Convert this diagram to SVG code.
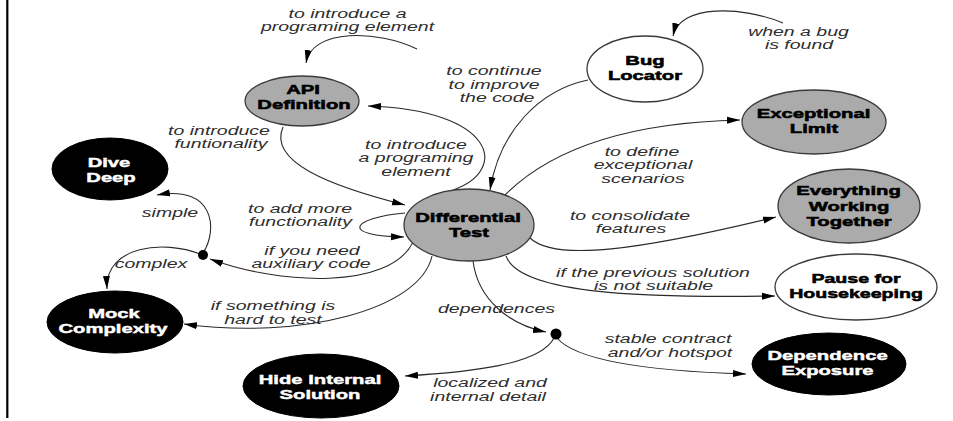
<svg xmlns="http://www.w3.org/2000/svg" width="953" height="421" viewBox="0 0 953 421">
  <style>
    .bg { fill: #ffffff; }
    .grey { fill: #ababab; stroke: #3a3a3a; stroke-width: 1.3; }
    .white { fill: #ffffff; stroke: #3a3a3a; stroke-width: 1.3; }
    .black { fill: #000000; stroke: #000000; stroke-width: 1; }
    .n { font-family: "Liberation Sans", Arial, sans-serif; font-size: 13.5px; font-weight: bold; text-anchor: middle; fill: #000; stroke: #000; stroke-width: 0.55; }
    .nw { font-family: "Liberation Sans", Arial, sans-serif; font-size: 13.5px; font-weight: bold; text-anchor: middle; fill: #fff; stroke: #fff; stroke-width: 0.45; }
    .l { font-family: "Liberation Sans", Arial, sans-serif; font-size: 12.5px; font-style: italic; text-anchor: middle; fill: #2e2e2e; }
    .edge { fill: none; stroke: #2a2a2a; stroke-width: 1.1; marker-end: url(#arrow); }
    .dot { fill: #000; }
  </style>
  <defs>
    <marker id="arrow" markerUnits="userSpaceOnUse" markerWidth="14" markerHeight="8" refX="13" refY="4" orient="auto">
      <path d="M0,0.5 L13,4 L0,7.5 z" fill="#000"/>
    </marker>
  </defs>

  <rect class="bg" x="0" y="0" width="953" height="421"/>
  <!-- left border rule -->
  <line x1="7.3" y1="0" x2="7.3" y2="418" stroke="#000" stroke-width="2.2"/>

  <!-- connectors -->
  <g id="connectors">
    <path class="edge" d="M417,49 C378,30 312,28 306,63"/>
    <path class="edge" d="M783,23 C742,6 680,4 673,36"/>
    <path class="edge" d="M283,127 C268,162 330,186 405,205"/>
    <path class="edge" d="M453,190 C510,170 495,110 368,106"/>
    <path class="edge" d="M588,80 C540,90 500,130 490,190"/>
    <path class="edge" d="M505,195 C560,140 650,122 740,120"/>
    <path class="edge" d="M530,238 C555,262 640,250 776,217"/>
    <path class="edge" d="M506,256 C520,295 650,298 775,296"/>
    <path class="edge" d="M473,261 C478,300 510,325 546,332"/>
    <path class="edge" d="M557,338 C580,365 680,372 746,374"/>
    <path class="edge" d="M554,338 C540,365 470,372 405,376"/>
    <path class="edge" d="M432,256 C420,310 300,340 184,324"/>
    <path class="edge" d="M413,242 C390,290 280,285 210,259"/>
    <path class="edge" d="M405,213 C350,218 340,236 404,237"/>
    <path class="edge" d="M203,253 C218,230 215,185 157,195"/>
    <path class="edge" d="M200,254 C165,240 105,245 107,289"/>
    <circle class="dot" cx="203" cy="255" r="5"/>
    <circle class="dot" cx="556" cy="334" r="5.5"/>
  </g>

  <!-- connector labels -->
  <g id="labels">
    <text class="l" transform="translate(347.5,18) scale(1.56,1)">to introduce a</text>
    <text class="l" transform="translate(347.5,31) scale(1.56,1)">programing element</text>
    <text class="l" transform="translate(798.5,36) scale(1.56,1)">when a bug</text>
    <text class="l" transform="translate(799,49) scale(1.56,1)">is found</text>
    <text class="l" transform="translate(494,75) scale(1.56,1)">to continue</text>
    <text class="l" transform="translate(494,89) scale(1.56,1)">to improve</text>
    <text class="l" transform="translate(497,102) scale(1.56,1)">the code</text>
    <text class="l" transform="translate(219,135) scale(1.56,1)">to introduce</text>
    <text class="l" transform="translate(221,148) scale(1.56,1)">funtionality</text>
    <text class="l" transform="translate(416,149) scale(1.56,1)">to introduce</text>
    <text class="l" transform="translate(416,162) scale(1.56,1)">a programing</text>
    <text class="l" transform="translate(416,176) scale(1.56,1)">element</text>
    <text class="l" transform="translate(642,156) scale(1.56,1)">to define</text>
    <text class="l" transform="translate(643,169) scale(1.56,1)">exceptional</text>
    <text class="l" transform="translate(643,183) scale(1.56,1)">scenarios</text>
    <text class="l" transform="translate(170,217) scale(1.56,1)">simple</text>
    <text class="l" transform="translate(300,213) scale(1.56,1)">to add more</text>
    <text class="l" transform="translate(300.5,226) scale(1.56,1)">functionality</text>
    <text class="l" transform="translate(630,220) scale(1.56,1)">to consolidate</text>
    <text class="l" transform="translate(631,233) scale(1.56,1)">features</text>
    <text class="l" transform="translate(312,255) scale(1.56,1)">if you need</text>
    <text class="l" transform="translate(311,268) scale(1.56,1)">auxiliary code</text>
    <text class="l" transform="translate(151,268) scale(1.56,1)">complex</text>
    <text class="l" transform="translate(653,277) scale(1.56,1)">if the previous solution</text>
    <text class="l" transform="translate(653.5,290) scale(1.56,1)">is not suitable</text>
    <text class="l" transform="translate(273,310) scale(1.56,1)">if something is</text>
    <text class="l" transform="translate(273,324) scale(1.56,1)">hard to test</text>
    <text class="l" transform="translate(496.5,313) scale(1.56,1)">dependences</text>
    <text class="l" transform="translate(668,343) scale(1.56,1)">stable contract</text>
    <text class="l" transform="translate(670,357) scale(1.56,1)">and/or hotspot</text>
    <text class="l" transform="translate(490,387) scale(1.56,1)">localized and</text>
    <text class="l" transform="translate(488,401) scale(1.56,1)">internal detail</text>
  </g>

  <!-- nodes -->
  <g id="api-definition">
    <ellipse class="grey" cx="302" cy="101" rx="57" ry="25"/>
    <text class="n" transform="translate(303,94) scale(1.5,1)">API</text>
    <text class="n" transform="translate(304,108.5) scale(1.5,1)">Definition</text>
  </g>
  <g id="bug-locator">
    <ellipse class="white" cx="645" cy="69" rx="58" ry="33"/>
    <text class="n" transform="translate(645,65) scale(1.5,1)">Bug</text>
    <text class="n" transform="translate(645,80) scale(1.5,1)">Locator</text>
  </g>
  <g id="dive-deep">
    <ellipse class="black" cx="110" cy="169" rx="58" ry="31"/>
    <text class="nw" transform="translate(109,167) scale(1.5,1)">Dive</text>
    <text class="nw" transform="translate(111,182) scale(1.5,1)">Deep</text>
  </g>
  <g id="exceptional-limit">
    <ellipse class="grey" cx="814" cy="122" rx="72" ry="32"/>
    <text class="n" transform="translate(813.5,118) scale(1.5,1)">Exceptional</text>
    <text class="n" transform="translate(814,133) scale(1.5,1)">Limit</text>
  </g>
  <g id="differential-test">
    <ellipse class="grey" cx="469" cy="225" rx="65" ry="36"/>
    <text class="n" transform="translate(468,222) scale(1.5,1)">Differential</text>
    <text class="n" transform="translate(469,237) scale(1.5,1)">Test</text>
  </g>
  <g id="everything-working-together">
    <ellipse class="grey" cx="849" cy="206" rx="71" ry="37"/>
    <text class="n" transform="translate(848.5,195) scale(1.5,1)">Everything</text>
    <text class="n" transform="translate(849,211) scale(1.5,1)">Working</text>
    <text class="n" transform="translate(849,226) scale(1.5,1)">Together</text>
  </g>
  <g id="pause-for-housekeeping">
    <ellipse class="white" cx="856" cy="287" rx="81" ry="33"/>
    <text class="n" transform="translate(856,282.5) scale(1.45,1)">Pause for</text>
    <text class="n" transform="translate(856,297.5) scale(1.45,1)">Housekeeping</text>
  </g>
  <g id="mock-complexity">
    <ellipse class="black" cx="115" cy="322" rx="68" ry="31"/>
    <text class="nw" transform="translate(114,318) scale(1.5,1)">Mock</text>
    <text class="nw" transform="translate(113,333) scale(1.5,1)">Complexity</text>
  </g>
  <g id="dependence-exposure">
    <ellipse class="black" cx="829" cy="364" rx="77" ry="31"/>
    <text class="nw" transform="translate(827.5,360) scale(1.5,1)">Dependence</text>
    <text class="nw" transform="translate(827.5,375) scale(1.5,1)">Exposure</text>
  </g>
  <g id="hide-internal-solution">
    <ellipse class="black" cx="321" cy="386" rx="78" ry="32"/>
    <text class="nw" transform="translate(320,384) scale(1.5,1)">Hide Internal</text>
    <text class="nw" transform="translate(320,399) scale(1.5,1)">Solution</text>
  </g>
</svg>
